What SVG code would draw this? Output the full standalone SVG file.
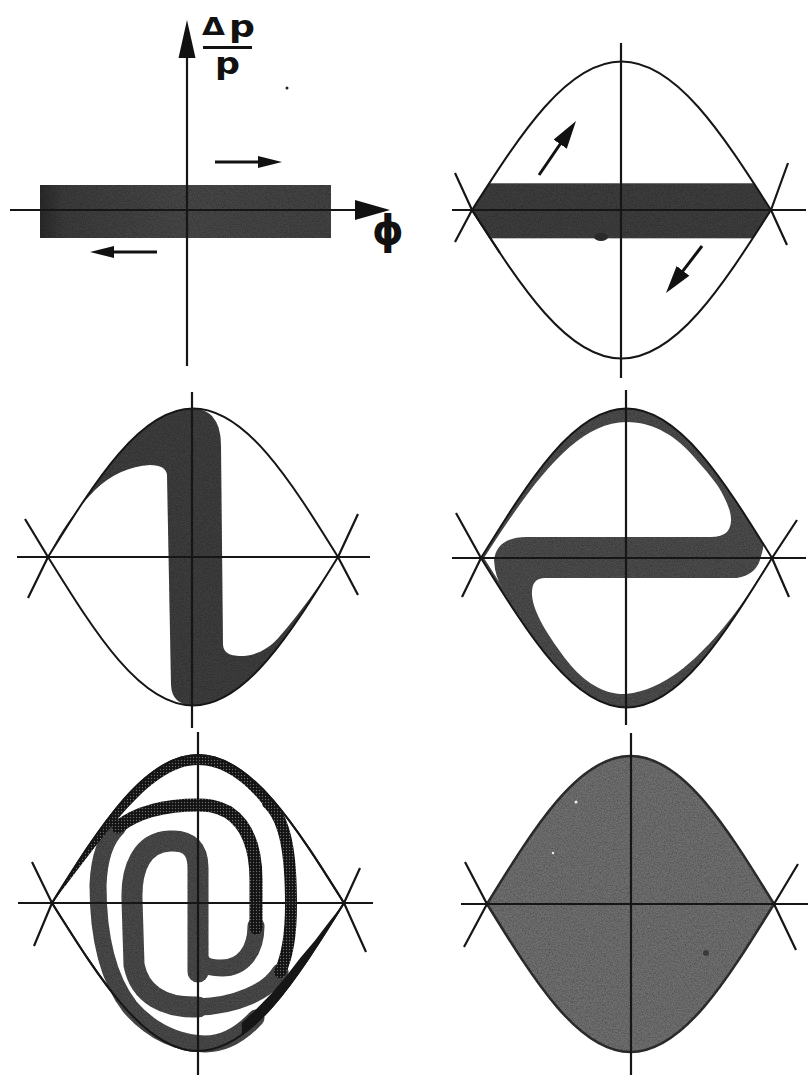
<svg xmlns="http://www.w3.org/2000/svg" width="808" height="1076" viewBox="0 0 808 1076">
<style>
.ax{stroke:#161616;stroke-width:2.2;fill:none}
.sx{stroke:#161616;stroke-width:2;fill:none}
.band{fill:#3e3e3e}
.hole{fill:#ffffff}
.g5{fill:none;stroke:#4a4a4a;stroke-linecap:round;stroke-linejoin:round}
.h5{fill:none;stroke:url(#dots);stroke-linecap:round;stroke-linejoin:round}
.arr{stroke:#111;stroke-width:3;fill:none}
.lbl{font-family:"DejaVu Sans","Liberation Sans",sans-serif;font-weight:bold;fill:#111}
</style>
<defs>
<filter id="grain" color-interpolation-filters="sRGB">
<feTurbulence type="fractalNoise" baseFrequency="0.75" numOctaves="2" seed="7" result="n"/>
<feColorMatrix in="n" type="matrix" values="0 0 0 0 0  0 0 0 0 0  0 0 0 0 0  0.6 0 0 0 -0.22" result="dk"/>
<feComposite in="dk" in2="SourceGraphic" operator="in" result="dk2"/>
<feMerge><feMergeNode in="SourceGraphic"/><feMergeNode in="dk2"/></feMerge>
</filter>
<pattern id="dots" patternUnits="userSpaceOnUse" width="3" height="3"><rect width="3" height="3" fill="#121212"/><circle cx="1.5" cy="1.5" r="0.7" fill="#6a6a6a"/></pattern>
<linearGradient id="g1" x1="0" x2="1" y1="0" y2="0"><stop offset="0" stop-color="#2a2a2a"/><stop offset="0.08" stop-color="#3c3c3c"/><stop offset="0.5" stop-color="#484848"/><stop offset="1" stop-color="#434343"/></linearGradient>
<marker id="ah" markerUnits="userSpaceOnUse" viewBox="0 0 24 12" markerWidth="24" markerHeight="12" refX="2" refY="6" orient="auto"><path d="M0,0 L24,6 L0,12 Z" fill="#111"/></marker>
<marker id="ahL" markerUnits="userSpaceOnUse" viewBox="0 0 28 16" markerWidth="28" markerHeight="16" refX="2" refY="8" orient="auto"><path d="M0,0 L28,8 L0,16 Z" fill="#111"/></marker>
<path id="sep2" d="M472,210 C521.5,132.8 567.2,61.5 621.5,61.5 C675.8,61.5 721.5,132.8 771,210 C721.5,287.2 675.8,358.5 621.5,358.5 C567.2,358.5 521.5,287.2 472,210 Z"/>
<path id="sep3" d="M48,557 C96,479.8 140.4,408.5 193,408.5 C245.6,408.5 290,479.8 338,557 C290,634.2 245.6,705.5 193,705.5 C140.4,705.5 96,634.2 48,557 Z"/>
<path id="sep4" d="M481,558 C529.2,480.3 573.7,408.5 626.5,408.5 C679.3,408.5 723.8,480.3 772,558 C723.8,635.7 679.3,707.5 626.5,707.5 C573.7,707.5 529.2,635.7 481,558 Z"/>
<path id="sep5" d="M52,903 C100.3,826 145,755 198,755 C251,755 295.7,826 344,903 C295.7,980 251,1051 198,1051 C145,1051 100.3,980 52,903 Z"/>
<path id="sep6" d="M487,904 C534.5,827 578.4,756 630.5,756 C682.6,756 726.5,827 774,904 C726.5,981 682.6,1052 630.5,1052 C578.4,1052 534.5,981 487,904 Z"/>
<clipPath id="clip2"><use href="#sep2"/></clipPath>
</defs>
<rect x="0" y="0" width="808" height="1076" fill="#ffffff"/>

<g id="panel1">
<rect x="40" y="185" width="291" height="53" fill="url(#g1)" filter="url(#grain)"/>
<line class="ax" x1="10" y1="210" x2="357" y2="210"/>
<polygon points="390,210 355,200 355,220" fill="#111"/>
<line class="ax" x1="187" y1="55" x2="187" y2="366"/>
<polygon points="187,20 178.5,58 195.5,58" fill="#111"/>
<text class="lbl" x="202" y="35" font-size="25" textLength="23" lengthAdjust="spacingAndGlyphs">Δ</text>
<text class="lbl" x="229" y="37" font-size="30" textLength="26" lengthAdjust="spacingAndGlyphs">p</text>
<line x1="203" y1="47.5" x2="252" y2="47.5" stroke="#111" stroke-width="3"/>
<text class="lbl" x="215" y="74" font-size="30" textLength="25" lengthAdjust="spacingAndGlyphs">p</text>
<text class="lbl" x="372" y="244" font-size="40">ϕ</text>
<circle cx="287" cy="88" r="1.5" fill="#222"/>
<path class="arr" d="M215,162 L260,162" marker-end="url(#ah)"/>
<path class="arr" d="M157,252 L112,252" marker-end="url(#ah)"/>
</g>

<g id="panel2">
<g clip-path="url(#clip2)"><rect x="465" y="183.3" width="312" height="55" class="band" filter="url(#grain)"/></g>
<ellipse cx="601" cy="237" rx="7" ry="4" fill="#2a2a2a"/>
<use href="#sep2" class="sx"/>
<line class="ax" x1="452" y1="210" x2="806" y2="210"/>
<line class="ax" x1="621" y1="43" x2="621" y2="378"/>
<path class="ax" d="M455,173 L472,210 L500,253 M455,242 L472,210 M788,163 L771,210 M787,245 L771,210"/>
<path class="arr" d="M539,175 L561.3,142.5" marker-end="url(#ahL)"/>
<path class="arr" d="M702,246 L681.8,272.4" marker-end="url(#ahL)"/>
</g>

<g id="panel3">
<path class="band" filter="url(#grain)" d="M48,557 C96,479.8 140.4,408.5 193,408.5 C200,408.5 207,411 212,416 Q221,426 221,445 L223,645 Q224,656 240,656 C255,656 268,650 280,636 C300,613 320,585 338,557 C290,634.2 245.6,705.5 193,705.5 Q172,705 171,685 L167,475 Q166,465 150,465 C130,466 110,475 95,490 C80,505 62,528 48,557 Z"/>
<use href="#sep3" class="sx"/>
<line class="ax" x1="17" y1="557" x2="370" y2="557"/>
<line class="ax" x1="192" y1="392" x2="192" y2="728"/>
<path class="ax" d="M25,519 L48,557 L28,598 M358,514 L338,557 L358,595"/>
</g>

<g id="panel4">
<use href="#sep4" fill="#4c4c4c" filter="url(#grain)"/>
<path class="hole" d="M484,558 C531,485 575,422 626.5,422 C655,422 678,438 694,457 C707,472 717,483 722,493 C730,508 735,522 727,532 Q722,537 710,537 L527,537 Q497,537 494,560 Q495,578 503,588 Z"/>
<path class="hole" d="M764,543 L771,558 C752,590 735,615 718,634 C695,660 665,690 626,694 C605,695 585,683 568,662 C548,636 533,612 532,595 Q531,578 545,578 L737,578 Q755,575 760,560 Q763,550 764,543 Z"/>
<use href="#sep4" class="sx"/>
<line class="ax" x1="452" y1="558" x2="806" y2="558"/>
<line class="ax" x1="626" y1="390" x2="626" y2="725"/>
<path class="ax" d="M456,513 L481,558 L462,597 M797,520 L772,558 L789,597"/>
</g>

<g id="panel5">
<use href="#sep5" class="sx"/>
<g filter="url(#grain)">
<path class="g5" stroke-width="21" d="M198,1007 C165,1008 140,995 134,965 L132,900 C131,868 142,842 170,841 C190,840 198,850 198,868 L198,972"/>
<path class="g5" stroke-width="17" d="M280,972 C268,992 235,1006 198,1007"/>
<path class="g5" stroke-width="17" d="M198,945 C198,965 206,968 222,968 C242,968 256,952 256,926"/>
<path class="g5" stroke-width="17" d="M118,827 C104,840 99,860 98,885 C98,930 105,975 130,1007 C150,1030 175,1043 205,1044 C225,1044 243,1032 256,1018"/>
</g>
<path d="M52,903 C100.3,826 145,755 198,755 C224.5,755 248.9,772.75 272.75,800.1 L264,806 C245,781 222,765 198,765 C152,765 110,828 57,897 Z" fill="url(#dots)"/>
<path class="h5" stroke-width="12" d="M268,803 C286,820 291,855 291,905 C291,935 288,955 280,972"/>
<path class="h5" stroke-width="13" d="M256,928 L256,880 C256,850 248,825 228,812 C215,805 205,805 198,805 C170,805 140,810 118,827"/>
<path d="M241.8,1034.9 L256.4,1022.7 L271,1007.6 L285.6,990 L300.2,970 L314.8,948.7 L329.4,926.2 L344,903 L329.4,921.5 L314.8,940.7 L300.2,958 L285.6,977 L271,994 L256.4,1009 L241.8,1022.9 Z" fill="#161616"/>
<use href="#sep5" class="sx"/>
<line class="ax" x1="18" y1="903" x2="373" y2="903"/>
<line class="ax" x1="198" y1="732" x2="198" y2="1075"/>
<path class="ax" d="M32,862 L52,903 L34,946 M360,868 L344,903 L366,952"/>
</g>

<g id="panel6">
<use href="#sep6" fill="#707070" stroke="#2e2e2e" stroke-width="2.5" filter="url(#grain)"/>
<circle cx="576" cy="802" r="1.5" fill="#eeeeee"/>
<circle cx="553" cy="853" r="1.2" fill="#eeeeee"/>
<circle cx="706" cy="953" r="3" fill="#3a3a3a"/>
<line class="ax" x1="461" y1="904" x2="808" y2="904"/>
<line class="ax" x1="631" y1="733" x2="631" y2="1075"/>
<path class="ax" d="M465,862 L487,904 L464,947 M798,864 L774,904 L796,950"/>
</g>
</svg>
